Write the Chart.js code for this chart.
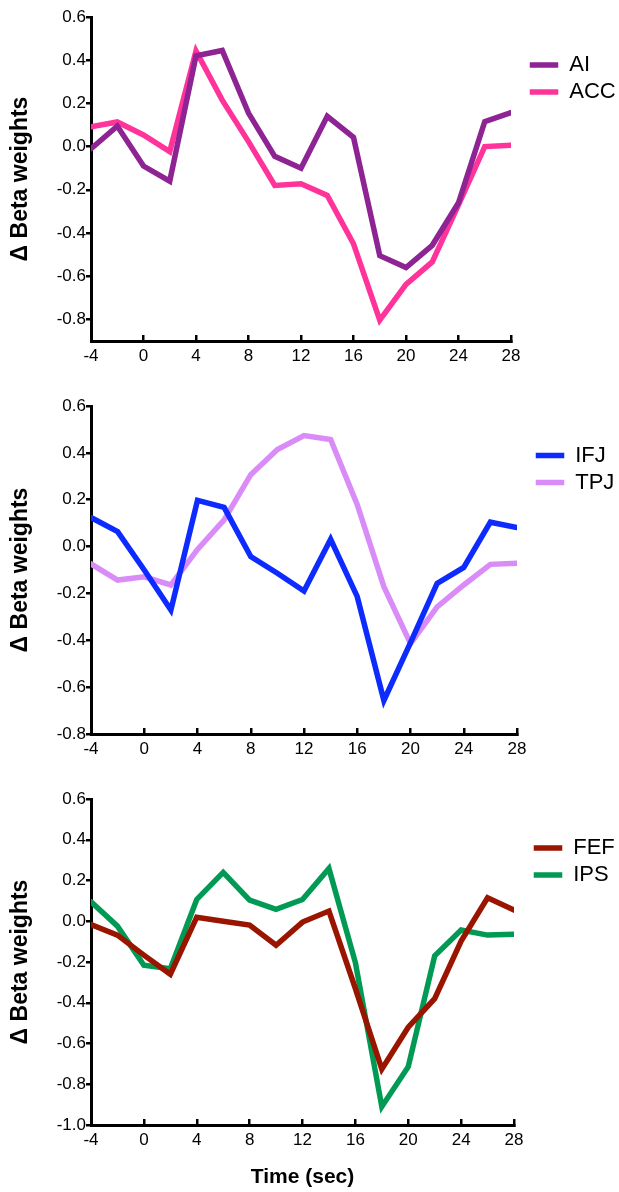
<!DOCTYPE html>
<html><head><meta charset="utf-8">
<script src="https://cdn.jsdelivr.net/npm/chart.js@4.4.1/dist/chart.umd.min.js"></script>
<style>
html,body{margin:0;padding:0;background:#fff;width:619px;height:1192px;overflow:hidden}
canvas{position:absolute;left:0}
</style></head><body>
<canvas id="c1" width="619" height="375" style="top:0px"></canvas>
<canvas id="c2" width="619" height="385" style="top:378px"></canvas>
<canvas id="c3" width="619" height="426" style="top:766px"></canvas>
<script>
// ---- data ----
const timePoints = [-4, -2, 0, 2, 4, 6, 8, 10, 12, 14, 16, 18, 20, 22, 24, 26, 28];
const xTicks = [-4, 0, 4, 8, 12, 16, 20, 24, 28];

const AI  = [-0.01, 0.095, -0.09, -0.16, 0.42, 0.445, 0.155, -0.045, -0.10, 0.14, 0.043, -0.505, -0.56, -0.457, -0.26, 0.115, 0.157];
const ACC = [0.092, 0.114, 0.054, -0.023, 0.443, 0.215, 0.023, -0.18, -0.172, -0.226, -0.45, -0.803, -0.638, -0.534, -0.27, 0.0, 0.006];

const IFJ = [0.124, 0.064, -0.10, -0.271, 0.197, 0.167, -0.043, -0.114, -0.19, 0.031, -0.214, -0.657, -0.41, -0.157, -0.089, 0.104, 0.081];
const TPJ = [-0.074, -0.143, -0.129, -0.164, -0.012, 0.114, 0.307, 0.414, 0.474, 0.457, 0.179, -0.171, -0.414, -0.257, -0.164, -0.076, -0.071];

const FEF = [-0.016, -0.068, -0.166, -0.26, 0.02, 0.0, -0.019, -0.118, -0.004, 0.05, -0.33, -0.726, -0.52, -0.38, -0.097, 0.115, 0.055];
const IPS = [0.096, -0.024, -0.216, -0.233, 0.107, 0.24, 0.104, 0.058, 0.107, 0.259, -0.203, -0.91, -0.714, -0.17, -0.043, -0.068, -0.064];

const yTicksTop    = [-0.8, -0.6, -0.4, -0.2, 0.0, 0.2, 0.4, 0.6];
const yTicksMiddle = [-0.8, -0.6, -0.4, -0.2, 0.0, 0.2, 0.4, 0.6];
const yTicksBottom = [-1.0, -0.8, -0.6, -0.4, -0.2, 0.0, 0.2, 0.4, 0.6];

const yLabel = 'Δ Beta weights';
const xLabel = 'Time (sec)';

// ---- styling / helpers ----
Chart.defaults.font.family = "'Liberation Sans', Arial, Helvetica, sans-serif";
Chart.defaults.color = '#000';

const legendMover = {
  id: 'legendMover',
  afterLayout(chart, args, o) {
    const lg = chart.legend;
    if (!lg || !o || o.x === undefined) return;
    const pad = o.pad;
    lg.left = o.x - pad; lg.right = lg.left + 140;
    lg.top = o.y - o.fs / 2 - pad; lg.bottom = lg.top + 200;
  }
};

function series(vals) { return timePoints.map((t, i) => ({x: t, y: vals[i]})); }

function ds(label, vals, color) {
  return {
    label, data: series(vals), borderColor: color, backgroundColor: color,
    borderWidth: 5.5, pointRadius: 0, pointHoverRadius: 0, tension: 0,
    borderJoinStyle: 'miter', borderCapStyle: 'round', pointStyle: 'line', fill: false
  };
}

function makeChart(id, sets, yMin, yMax, yTicks, cfg) {
  const fs = 22;
  new Chart(document.getElementById(id), {
    type: 'line',
    data: {datasets: sets},
    plugins: [legendMover],
    options: {
      responsive: false, animation: false, devicePixelRatio: 1,
      layout: {padding: {top: cfg.top, right: cfg.right, bottom: 0, left: 0}},
      plugins: {
        tooltip: {enabled: false},
        legend: {
          position: 'chartArea', align: 'start',
          labels: {
            usePointStyle: true, pointStyle: 'line', pointStyleWidth: 28.5,
            boxHeight: 5, padding: 5, color: '#000',
            font: {size: fs, lineHeight: 1}
          }
        },
        legendMover: {x: cfg.legX, y: cfg.legY, pad: 5, fs: fs}
      },
      scales: {
        x: {
          type: 'linear', min: -4, max: 28,
          afterBuildTicks: s => { s.ticks = xTicks.map(v => ({value: v})); },
          afterFit: s => { s.height = cfg.xh; },
          grid: {display: true, drawOnChartArea: false, drawTicks: true, tickLength: -6,
                 color: '#000', lineWidth: 2.5, tickWidth: 2.5, tickColor: '#000'},
          border: {display: true, color: '#000', width: 3},
          ticks: {padding: 11, maxRotation: 0, autoSkip: false, color: '#000',
                  font: {size: 17}, callback: v => String(v)},
          title: cfg.xTitle ? {display: true, text: xLabel, color: '#000',
                  font: {size: 21, weight: 'bold'}, padding: {top: 0, bottom: cfg.xtPad}} : {display: false}
        },
        y: {
          type: 'linear', min: yMin, max: yMax,
          afterBuildTicks: s => { s.ticks = yTicks.map(v => ({value: v})); },
          afterFit: s => { s.width = cfg.left; },
          grid: {display: true, drawOnChartArea: false, drawTicks: true, tickLength: 5,
                 color: '#000', lineWidth: 2.5, tickWidth: 2.5, tickColor: '#000'},
          border: {display: true, color: '#000', width: 3},
          ticks: {padding: 0, autoSkip: false, color: '#000', font: {size: 17},
                  callback: v => Number(v).toFixed(1)},
          title: {display: true, text: yLabel, color: '#000',
                  font: {size: 23, weight: 'bold'}, padding: {top: 7, bottom: 0}}
        }
      }
    }
  });
}

makeChart('c1', [ds('AI', AI, '#8E2393'), ds('ACC', ACC, '#FF3399')], -0.9, 0.6, yTicksTop,
  {top: 17, right: 619 - 511, left: 91, xh: 34, legX: 529.75, legY: 65});
makeChart('c2', [ds('IFJ', IFJ, '#0D2BFF'), ds('TPJ', TPJ, '#D98CF8')], -0.8, 0.6, yTicksMiddle,
  {top: 28, right: 619 - 517, left: 91, xh: 29, legX: 535.75, legY: 455.5 - 378});
makeChart('c3', [ds('FEF', FEF, '#9A1500'), ds('IPS', IPS, '#009A55')], -1.0, 0.6, yTicksBottom,
  {top: 33, right: 619 - 514, left: 91, xh: 67, legX: 533.75, legY: 848 - 766, xTitle: true, xtPad: 2.4});
</script>
</body></html>
